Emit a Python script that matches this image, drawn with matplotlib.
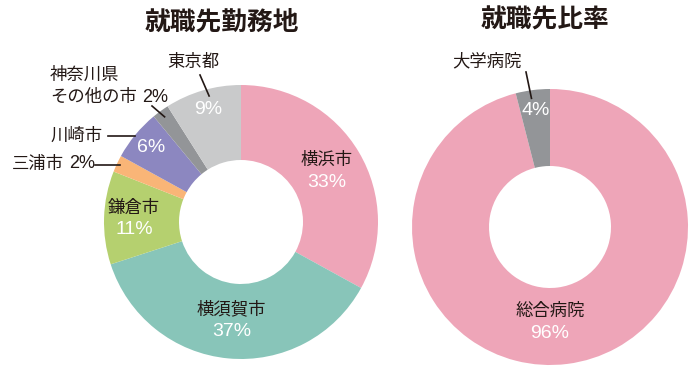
import numpy as np
import matplotlib.pyplot as plt

plt.rcParams['font.family'] = ['Noto Sans CJK JP', 'DejaVu Sans']

# left donut: 就職先勤務地
work_names = ["横浜市", "横須賀市", "鎌倉市", "三浦市", "川崎市", "神奈川県その他の市", "東京都"]
work_pct = [33, 37, 11, 2, 6, 2, 9]
work_colors = ["#EEA5B8", "#88C5B9", "#B5D06F", "#F9B577", "#8C87C0", "#939598", "#C9CACB"]

# right donut: 就職先比率
hosp_names = ["総合病院", "大学病院"]
hosp_pct = [96, 4]
hosp_colors = ["#EEA5B8", "#939598"]

DARK = "#231815"

fig = plt.figure(figsize=(7, 3.74), dpi=100)
ax = fig.add_axes([0, 0, 1, 1])

c1, r1 = (241, 152), 137
c2, r2 = (550, 147), 138
ax.pie(work_pct, colors=work_colors, startangle=90, counterclock=False,
       center=c1, radius=r1, wedgeprops=dict(width=75, linewidth=0))
ax.pie(hosp_pct, colors=hosp_colors, startangle=90, counterclock=False,
       center=c2, radius=r2, wedgeprops=dict(width=77, linewidth=0))
ax.set_xlim(0, 700)
ax.set_ylim(0, 374)
ax.set_aspect('equal')
ax.axis('off')


def mid_angles(vals):
    cum = np.cumsum([0] + list(vals))
    return [90 - 360 * (cum[i] + cum[i + 1]) / 2 / 100 for i in range(len(vals))]


def pt(c, r, ang):
    a = np.deg2rad(ang)
    return c[0] + r * np.cos(a), c[1] + r * np.sin(a)


pfont = dict(family=['Liberation Sans', 'DejaVu Sans'], color='white', fontsize=14)
nfont = dict(color=DARK, fontsize=12.5)


def inner(c, r, ang, name, pct):
    x, y = pt(c, r, ang)
    ax.text(x, y + 11, name, ha='center', va='center', **nfont)
    ax.text(x, y - 11, f"{pct}%", ha='center', va='center', **pfont)


a1 = mid_angles(work_pct)
a2 = mid_angles(hosp_pct)

inner(c1, 100, a1[0], work_names[0], work_pct[0])
inner(c1, 99, a1[1], work_names[1], work_pct[1])
inner(c1, 107, a1[2], work_names[2], work_pct[2])
inner(c2, 95, -90, hosp_names[0], hosp_pct[0])

# percentages only inside small wedges
for c, ang, p in [(c1, a1[4], work_pct[4]), (c1, a1[6], work_pct[6]), (c2, a2[1], hosp_pct[1])]:
    x, y = pt(c, 117, ang)
    ax.text(x, y, f"{p}%", ha='center', va='center', **pfont)

lk = dict(color=DARK, linewidth=1.2)

# 東京都
x, y = pt(c1, 130, a1[6] - 2)
ax.plot([x, 200], [y, 299], **lk)
ax.text(193, 312, work_names[6], ha='center', va='center', **nfont)

# 神奈川県 その他の市
x, y = pt(c1, 130, a1[5])
ax.plot([x, 152], [y, 268], **lk)
ax.text(50, 299, "神奈川県", ha='left', va='center', **nfont)
ax.text(50, 277, "その他の市", ha='left', va='center', **nfont)
ax.text(142, 277, f"{work_pct[5]}%", ha='left', va='center',
        **dict(pfont, color=DARK, fontsize=13))

# 川崎市
x, y = pt(c1, 136, 141)
ax.plot([x, 108], [y, y], **lk)
ax.text(103, y + 1, work_names[4], ha='right', va='center', **nfont)

# 三浦市
x, y = pt(c1, 134, a1[3])
ax.plot([x, 95], [y, y], **lk)
ax.text(64, y + 1, work_names[3], ha='right', va='center', **nfont)
ax.text(69, y + 1, f"{work_pct[3]}%", ha='left', va='center',
        **dict(pfont, color=DARK, fontsize=13))

# 大学病院
x, y = pt(c2, 130, a2[1] + 1)
ax.plot([x, 526], [y, 302], **lk)
ax.text(487, 313, hosp_names[1], ha='center', va='center', **nfont)

ax.text(222, 352, "就職先勤務地", ha='center', va='center', fontsize=18.5, fontweight='bold', color=DARK)
ax.text(545, 354, "就職先比率", ha='center', va='center', fontsize=18.5, fontweight='bold', color=DARK)

fig.savefig("out.png", dpi=100)
